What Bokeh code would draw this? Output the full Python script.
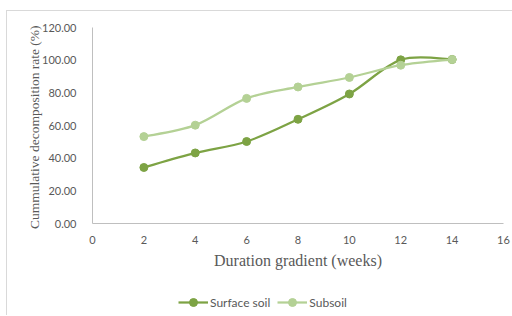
from bokeh.plotting import figure
from bokeh.layouts import column
from bokeh.models import (Legend, LegendItem, FixedTicker, NumeralTickFormatter,
                          Range1d, ColumnDataSource)
from bokeh.embed import file_html
from bokeh.resources import INLINE

weeks = [2, 4, 6, 8, 10, 12, 14]
surface_soil = [34.3, 43.2, 50.2, 63.8, 79.3, 100.2, 100.4]
subsoil = [53.2, 60.2, 76.6, 83.6, 89.4, 96.9, 100.4]
x_ticks = [0, 2, 4, 6, 8, 10, 12, 14, 16]
y_ticks = [0, 20, 40, 60, 80, 100, 120]
series_names = ["Surface soil", "Subsoil"]

SURF = "#7DA344"
SUB = "#B4D195"
GRAY = "#595959"

p = figure(width=505, height=269, output_backend="svg", toolbar_location=None,
           x_range=Range1d(0, 16), y_range=Range1d(0, 120),
           min_border_left=85, min_border_right=9, min_border_top=16,
           min_border_bottom=57)
p.outline_line_color = None
p.xgrid.visible = False
p.ygrid.visible = False
p.background_fill_color = "white"
p.border_fill_color = "white"


def smooth(xs, ys):
    # Excel-like smoothed line: cubic Bezier segments from Catmull-Rom tangents
    n = len(xs)
    d = dict(x0=[], y0=[], x1=[], y1=[], cx0=[], cy0=[], cx1=[], cy1=[])
    for i in range(n - 1):
        pm = max(i - 1, 0)
        pp = min(i + 2, n - 1)
        d["x0"].append(xs[i]); d["y0"].append(ys[i])
        d["x1"].append(xs[i + 1]); d["y1"].append(ys[i + 1])
        d["cx0"].append(xs[i] + (xs[i + 1] - xs[pm]) / 6)
        d["cy0"].append(ys[i] + (ys[i + 1] - ys[pm]) / 6)
        d["cx1"].append(xs[i + 1] - (xs[pp] - xs[i]) / 6)
        d["cy1"].append(ys[i + 1] - (ys[pp] - ys[i]) / 6)
    return ColumnDataSource(d)


# legend strip (separate small figure so the legend is not clipped);
# its frame is aligned with the main frame by the column layout
lg = figure(width=505, height=35, output_backend="svg", toolbar_location=None,
            x_range=Range1d(-2, -1), y_range=Range1d(-2, -1),
            x_axis_type=None, y_axis_type=None,
            min_border_left=0, min_border_right=0, min_border_top=0,
            min_border_bottom=0)
lg.outline_line_color = None
lg.xgrid.visible = False
lg.ygrid.visible = False
lg.border_fill_color = "white"
lg.background_fill_color = "white"

items = []
for name, ys, col in zip(series_names, [surface_soil, subsoil], [SURF, SUB]):
    p.bezier("x0", "y0", "x1", "y1", "cx0", "cy0", "cx1", "cy1",
             source=smooth(weeks, ys), line_color=col, line_width=2.25)
    p.scatter(weeks, ys, size=8, fill_color=col, line_color=col)
    # proxies for the legend (outside the strip's visible range)
    lr = lg.line(weeks, ys, line_color=col, line_width=2.25)
    sr = lg.scatter(weeks, ys, size=8, fill_color=col, line_color=col)
    items.append(LegendItem(label=name, renderers=[lr, sr]))

for ax in (p.xaxis[0], p.yaxis[0]):
    ax.axis_line_color = "#BFBFBF"
    ax.axis_line_width = 1
    ax.major_tick_line_color = None
    ax.minor_tick_line_color = None
    ax.major_tick_out = 0
    ax.major_tick_in = 0
    ax.minor_tick_out = 0
    ax.major_label_text_color = GRAY
    ax.major_label_text_font = "Lato"
    ax.major_label_text_font_size = "11px"
    ax.axis_label_text_font = "Liberation Serif"
    ax.axis_label_text_font_style = "normal"
    ax.axis_label_text_color = GRAY

p.xaxis.ticker = FixedTicker(ticks=x_ticks)
p.yaxis.ticker = FixedTicker(ticks=y_ticks)
p.yaxis.formatter = NumeralTickFormatter(format="0.00")
p.xaxis.major_label_standoff = 12
p.yaxis.major_label_standoff = 16
p.xaxis.axis_label = "Duration gradient (weeks)"
p.xaxis.axis_label_text_font_size = "16px"
p.xaxis.axis_label_standoff = 5
p.yaxis.axis_label = "Cummulative  decomposition rate (%)"
p.yaxis.axis_label_text_font_size = "13.5px"
p.yaxis.axis_label_standoff = -3

legend = Legend(items=items, orientation="horizontal", location=(86, 3),
                label_text_font="Lato", label_text_font_size="12px",
                label_text_color=GRAY, glyph_width=30, glyph_height=20,
                label_standoff=2, spacing=7, padding=2, margin=0,
                border_line_color=None, background_fill_alpha=0)
lg.add_layout(legend, "center")

layout = column(p, lg, spacing=0, margin=(10, 0, 0, 6),
                styles={"border-top": "1px solid #D9D9D9",
                        "border-left": "1px solid #D9D9D9"})

open("out.html", "w").write(file_html(layout, INLINE))
